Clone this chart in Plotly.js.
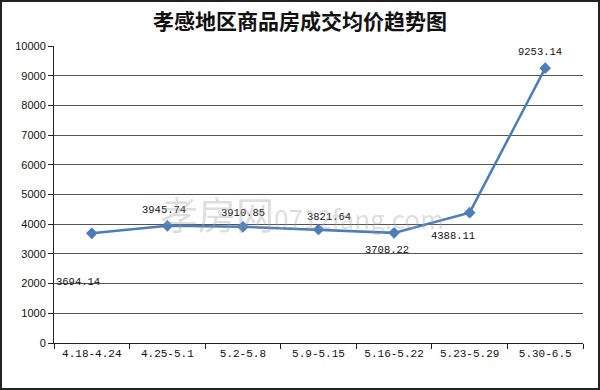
<!DOCTYPE html>
<html><head><meta charset="utf-8">
<script src="https://cdn.plot.ly/plotly-3.0.1.min.js"></script>
<style>html,body{margin:0;padding:0;background:#fff}#c{width:600px;height:390px}</style>
</head><body><div id="c"></div>
<script>
const categories = ["4.18-4.24","4.25-5.1","5.2-5.8","5.9-5.15","5.16-5.22","5.23-5.29","5.30-6.5"];
const prices = [3694.14, 3945.74, 3910.85, 3821.64, 3708.22, 4388.11, 9253.14];
const labelText = ["3694.14","3945.74","3910.85","3821.64","3708.22","4388.11","9253.14"];
const labelOffsets = [[-14,49],[-3,-16],[0,-14],[10,-13],[-7,17],[-17,23],[-5,-16]];

const W=600,H=390,L=54,R=17,T=46,B=47;
const pw=W-L-R, ph=H-T-B;
const px = v => (v-L)/pw, py = v => (H-B-v)/ph;

const annotations = prices.map((v,i)=>({
  x: categories[i], y: v, xref:'x', yref:'y', text: labelText[i],
  showarrow:true, arrowcolor:'rgba(0,0,0,0)', arrowwidth:0.1, ax: labelOffsets[i][0], ay: labelOffsets[i][1],
  font:{family:'Liberation Mono, DejaVu Sans Mono, monospace', size:10.5, color:'#111'}
}));
annotations.push({
  xref:'paper', yref:'paper', x: px(302), y: py(212), text:'孝房网<span style="font-size:26px">0712fang.com</span>',
  showarrow:false, font:{family:'Noto Sans CJK SC', size:38, color:'rgba(160,160,160,0.35)'}
});

Plotly.newPlot('c',[{
  x: categories, y: prices, type:'scatter', mode:'lines+markers',
  line:{color:'#4a7ebb', width:2.5},
  marker:{symbol:'diamond', size:9, color:'#4a7ebb'},
  hoverinfo:'none'
}],{
  width:W, height:H, margin:{l:L,r:R,t:T,b:B},
  paper_bgcolor:'#fff', plot_bgcolor:'#fff',
  title:{text:'<b>孝感地区商品房成交均价趋势图</b>', x:0.5, xanchor:'center', y: 1-22/H, yanchor:'middle',
    font:{family:'Noto Sans CJK SC', size:21, color:'#111'}},
  showlegend:false,
  xaxis:{type:'category', range:[-0.5,6.5], showline:true, linecolor:'#222', linewidth:1,
    ticks:'outside', tickson:'boundaries', ticklen:5, tickcolor:'#222', showgrid:false,
    tickfont:{family:'Liberation Mono, DejaVu Sans Mono, monospace', size:11, color:'#111'}},
  yaxis:{range:[0,10000], dtick:1000, tickformat:'d', showline:true, linecolor:'#222', linewidth:1,
    ticks:'outside', ticklen:5, tickcolor:'#222', gridcolor:'#555', gridwidth:1, zeroline:false,
    tickfont:{family:'Liberation Sans, Arial, sans-serif', size:11, color:'#111'}},
  annotations: annotations,
  shapes:[{type:'rect', xref:'paper', yref:'paper', x0:px(1), x1:px(599), y0:py(389), y1:py(1),
    line:{color:'#222', width:2}, fillcolor:'rgba(0,0,0,0)', layer:'above'}]
},{staticPlot:true});
</script></body></html>
